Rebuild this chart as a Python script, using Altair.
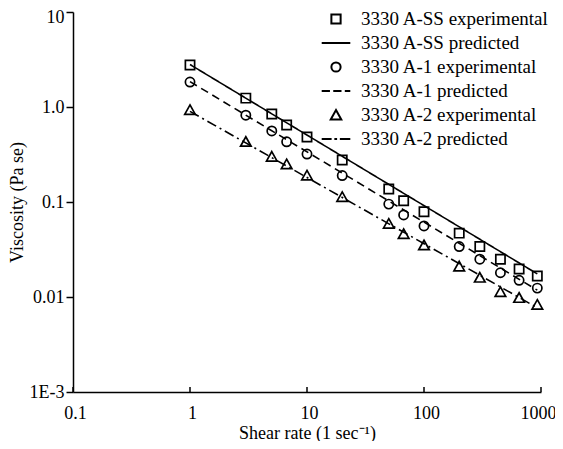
import altair as alt
import pandas as pd

# ---- data ----
shear_rate = [1, 3, 5, 6.7, 10, 20, 50, 67, 100, 200, 300, 450, 650, 930]
visc_ss = [2.77, 1.24, 0.845, 0.647, 0.483, 0.277, 0.137, 0.103, 0.079, 0.047, 0.034, 0.025, 0.0197, 0.0166]
visc_a1 = [1.83, 0.82, 0.56, 0.43, 0.32, 0.19, 0.095, 0.073, 0.056, 0.034, 0.025, 0.018, 0.015, 0.0124]
visc_a2 = [0.93, 0.43, 0.30, 0.25, 0.19, 0.113, 0.059, 0.046, 0.035, 0.021, 0.016, 0.0113, 0.0098, 0.0083]

pred_x = [1, 930]
pred_ss = [2.8, 0.0175]
pred_a1 = [1.85, 0.0118]
pred_a2 = [0.9, 0.0077]

exp_names = ["3330 A-SS experimental", "3330 A-1 experimental", "3330 A-2 experimental"]
pred_names = ["3330 A-SS predicted", "3330 A-1 predicted", "3330 A-2 predicted"]
legend_order = [exp_names[0], pred_names[0], exp_names[1], pred_names[1], exp_names[2], pred_names[2]]

x_ticks = [0.1, 1, 10, 100, 1000]
x_tick_labels = ["0.1", "1", "10", "100", "1000"]
y_ticks = [0.001, 0.01, 0.1, 1, 10]
y_tick_labels = ["1E-3", "0.01", "0.1", "1.0", "10"]

# ---- tables ----
exp_rows = []
for name, vals in zip(exp_names, [visc_ss, visc_a1, visc_a2]):
    for xv, yv in zip(shear_rate, vals):
        exp_rows.append({"x": xv, "y": yv, "series": name})
exp_df = pd.DataFrame(exp_rows)

pred_rows = []
for name, vals in zip(pred_names, [pred_ss, pred_a1, pred_a2]):
    for xv, yv in zip(pred_x, vals):
        pred_rows.append({"x": xv, "y": yv, "series": name})
pred_df = pd.DataFrame(pred_rows)

tick_df = pd.DataFrame({"x": x_ticks})

FONT = "Liberation Serif"
FS = 18

shape_paths = {
    "3330 A-SS experimental": "M-0.42,-0.42H0.42V0.42H-0.42Z",
    "3330 A-SS predicted": "M-1.3,0H1.3",
    "3330 A-1 experimental": "M-0.42,0A0.42,0.42 0 1,0 0.42,0A0.42,0.42 0 1,0 -0.42,0Z",
    "3330 A-1 predicted": "M-1.3,0H-0.55M-0.25,0H0.5M0.8,0H1.3",
    "3330 A-2 experimental": "M0,-0.46L0.48,0.4H-0.48Z",
    "3330 A-2 predicted": "M-1.3,0H-0.4M-0.15,0H0.1M0.35,0H1.3",
}

x_scale = alt.Scale(type="log", domain=[0.1, 1000], nice=False)
y_scale = alt.Scale(type="log", domain=[0.001, 10], nice=False)

x_lab_js = "[" + ",".join("'%s'" % s for s in x_tick_labels) + "]"
y_lab_js = "[" + ",".join("'%s'" % s for s in y_tick_labels) + "]"

x_axis = alt.Axis(
    values=x_ticks,
    labelExpr=x_lab_js + "[round(log(datum.value)/LN10)+1]",
    title="Shear rate (1 sec⁻¹)",
    ticks=False,
    labelPadding=12,
    titlePadding=2,
    grid=False,
    labelAlign={"condition": {"test": "datum.value >= 999", "value": "right"}, "value": "center"},
    labelOffset={"condition": {"test": "datum.value >= 999", "value": 15}, "value": 2},
)
y_axis = alt.Axis(
    values=y_ticks,
    labelExpr=y_lab_js + "[round(log(datum.value)/LN10)+3]",
    title="Viscosity (Pa se)",
    tickSize=7,
    labelPadding=2,
    titlePadding=3,
    grid=False,
    labelOffset={"condition": {"test": "datum.value >= 9", "value": 5}, "value": 0},
)

lines = alt.Chart(pred_df).mark_line(color="black", strokeWidth=1.6).encode(
    x=alt.X("x:Q", scale=x_scale, axis=x_axis),
    y=alt.Y("y:Q", scale=y_scale, axis=y_axis),
    strokeDash=alt.StrokeDash(
        "series:N",
        scale=alt.Scale(domain=pred_names, range=[[1, 0], [8, 5], [10, 4, 2, 4]]),
        legend=None,
    ),
)

points = alt.Chart(exp_df).mark_point(
    filled=False, color="black", strokeWidth=1.7, size=484, opacity=1
).encode(
    x=alt.X("x:Q", scale=x_scale),
    y=alt.Y("y:Q", scale=y_scale),
    shape=alt.Shape(
        "series:N",
        scale=alt.Scale(domain=legend_order, range=[shape_paths[n] for n in legend_order]),
        legend=alt.Legend(
            title=None,
            orient="none",
            legendX=251,
            legendY=-5,
            padding=0,
            rowPadding=2,
            symbolSize=484,
            symbolStrokeColor="black",
            symbolStrokeWidth=2,
            symbolFillColor="transparent",
            labelFont=FONT,
            labelFontSize=19,
            labelColor="black",
            labelOffset=13,
            labelLimit=400,
        ),
    ),
)

xticks = alt.Chart(tick_df).mark_rule(color="black", strokeWidth=1.5).encode(
    x=alt.X("x:Q", scale=x_scale),
    y=alt.value(380),
    y2=alt.value(375),
)

chart = alt.layer(lines, points, xticks).properties(
    width=468,
    height=380,
    autosize=alt.AutoSizeParams(type="none"),
    padding={"left": 65, "top": 4, "right": 14, "bottom": 49},
    background="white",
).configure_view(stroke=None).configure_axis(
    domainColor="black",
    domainWidth=1.5,
    tickColor="black",
    tickWidth=1.5,
    labelFont=FONT,
    labelFontSize=FS,
    labelColor="black",
    titleFont=FONT,
    titleFontSize=FS,
    titleFontWeight="normal",
    titleColor="black",
)

chart.save("out.html", embed_options={"renderer": "svg", "actions": False})
